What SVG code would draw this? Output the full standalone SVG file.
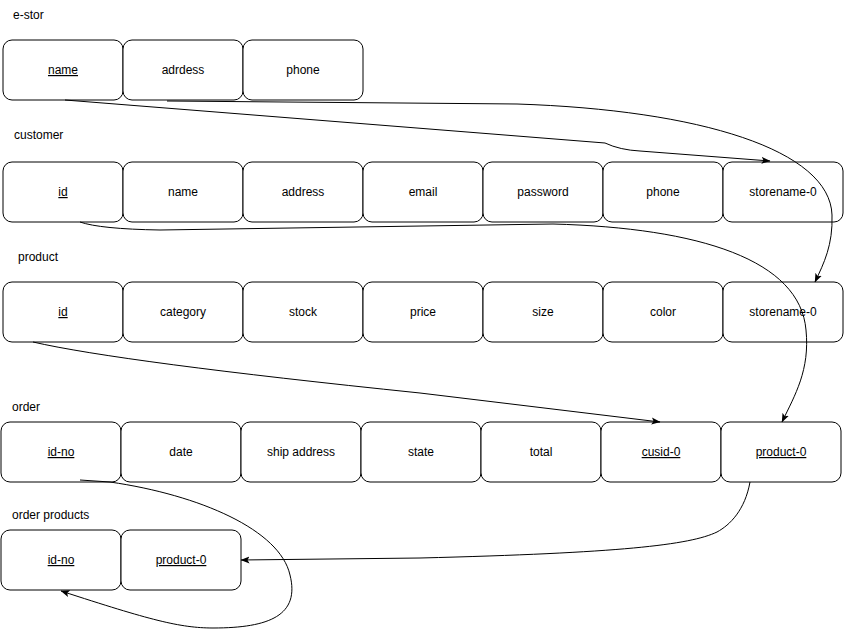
<svg xmlns="http://www.w3.org/2000/svg" width="844" height="631" viewBox="0 0 844 631">
<style>
.box{fill:#fff;stroke:#000;stroke-width:1}
.t{font-family:"Liberation Sans",Arial,sans-serif;font-size:12px;fill:#000;text-anchor:middle}
.lbl{font-family:"Liberation Sans",Arial,sans-serif;font-size:12px;fill:#000}
.u{text-decoration:underline}
.c{fill:none;stroke:#000;stroke-width:1;marker-end:url(#arr)}
</style>
<defs>
<marker id="arr" markerUnits="userSpaceOnUse" markerWidth="9" markerHeight="8" viewBox="0 0 9 8" refX="8.5" refY="4" orient="auto">
<path d="M0,0.5 L9,4 L0,7.5 L2,4 z" fill="#000"/>
</marker>
</defs>
<rect width="844" height="631" fill="#fff"/>

<g id="title-estor"><text class="lbl" x="13" y="19">e-stor</text></g>
<g id="title-customer"><text class="lbl" x="14" y="139">customer</text></g>
<g id="title-product"><text class="lbl" x="18" y="261">product</text></g>
<g id="title-order"><text class="lbl" x="12" y="411">order</text></g>
<g id="title-orderproducts"><text class="lbl" x="12" y="519">order products</text></g>

<g id="estor-name"><rect class="box" x="3" y="40" width="120" height="60" rx="9"/><text class="t u" x="63" y="74">name</text></g>
<g id="estor-adrdess"><rect class="box" x="123" y="40" width="120" height="60" rx="9"/><text class="t" x="183" y="74">adrdess</text></g>
<g id="estor-phone"><rect class="box" x="243" y="40" width="120" height="60" rx="9"/><text class="t" x="303" y="74">phone</text></g>

<g id="customer-id"><rect class="box" x="3" y="162" width="120" height="60" rx="9"/><text class="t u" x="63" y="196">id</text></g>
<g id="customer-name"><rect class="box" x="123" y="162" width="120" height="60" rx="9"/><text class="t" x="183" y="196">name</text></g>
<g id="customer-address"><rect class="box" x="243" y="162" width="120" height="60" rx="9"/><text class="t" x="303" y="196">address</text></g>
<g id="customer-email"><rect class="box" x="363" y="162" width="120" height="60" rx="9"/><text class="t" x="423" y="196">email</text></g>
<g id="customer-password"><rect class="box" x="483" y="162" width="120" height="60" rx="9"/><text class="t" x="543" y="196">password</text></g>
<g id="customer-phone"><rect class="box" x="603" y="162" width="120" height="60" rx="9"/><text class="t" x="663" y="196">phone</text></g>
<g id="customer-storename"><rect class="box" x="723" y="162" width="120" height="60" rx="9"/><text class="t" x="783" y="196">storename-0</text></g>

<g id="product-id"><rect class="box" x="3" y="282" width="120" height="60" rx="9"/><text class="t u" x="63" y="316">id</text></g>
<g id="product-category"><rect class="box" x="123" y="282" width="120" height="60" rx="9"/><text class="t" x="183" y="316">category</text></g>
<g id="product-stock"><rect class="box" x="243" y="282" width="120" height="60" rx="9"/><text class="t" x="303" y="316">stock</text></g>
<g id="product-price"><rect class="box" x="363" y="282" width="120" height="60" rx="9"/><text class="t" x="423" y="316">price</text></g>
<g id="product-size"><rect class="box" x="483" y="282" width="120" height="60" rx="9"/><text class="t" x="543" y="316">size</text></g>
<g id="product-color"><rect class="box" x="603" y="282" width="120" height="60" rx="9"/><text class="t" x="663" y="316">color</text></g>
<g id="product-storename"><rect class="box" x="723" y="282" width="120" height="60" rx="9"/><text class="t" x="783" y="316">storename-0</text></g>

<g id="order-idno"><rect class="box" x="1" y="422" width="120" height="60" rx="9"/><text class="t u" x="61" y="456">id-no</text></g>
<g id="order-date"><rect class="box" x="121" y="422" width="120" height="60" rx="9"/><text class="t" x="181" y="456">date</text></g>
<g id="order-shipaddress"><rect class="box" x="241" y="422" width="120" height="60" rx="9"/><text class="t" x="301" y="456">ship address</text></g>
<g id="order-state"><rect class="box" x="361" y="422" width="120" height="60" rx="9"/><text class="t" x="421" y="456">state</text></g>
<g id="order-total"><rect class="box" x="481" y="422" width="120" height="60" rx="9"/><text class="t" x="541" y="456">total</text></g>
<g id="order-cusid"><rect class="box" x="601" y="422" width="120" height="60" rx="9"/><text class="t u" x="661" y="456">cusid-0</text></g>
<g id="order-product"><rect class="box" x="721" y="422" width="120" height="60" rx="9"/><text class="t u" x="781" y="456">product-0</text></g>

<g id="op-idno"><rect class="box" x="1" y="530" width="120" height="60" rx="9"/><text class="t u" x="61" y="564">id-no</text></g>
<g id="op-product"><rect class="box" x="121" y="530" width="120" height="60" rx="9"/><text class="t u" x="181" y="564">product-0</text></g>

<g id="connectors">
<path class="c" d="M65,100 L605,143 Q620,150 640,151 L770,161"/>
<path class="c" d="M167,101 L517,104 C700,110 830,150 832,215 C833,245 824,263 815,282"/>
<path class="c" d="M80,222 Q100,229 160,230 L553,224 C700,228 800,260 806,330 C810,370 795,395 782,422"/>
<path class="c" d="M33,342 Q120,362 420,393 L660,422"/>
<path class="c" d="M750,482 C745,510 730,525 717,532 C690,545 620,553 420,558 L241,560"/>
<path class="c" d="M80,480 L110,482 C200,495 280,530 290,575 C300,615 270,628 213,628 C180,628 150,620 61,591"/>
</g>
</svg>
